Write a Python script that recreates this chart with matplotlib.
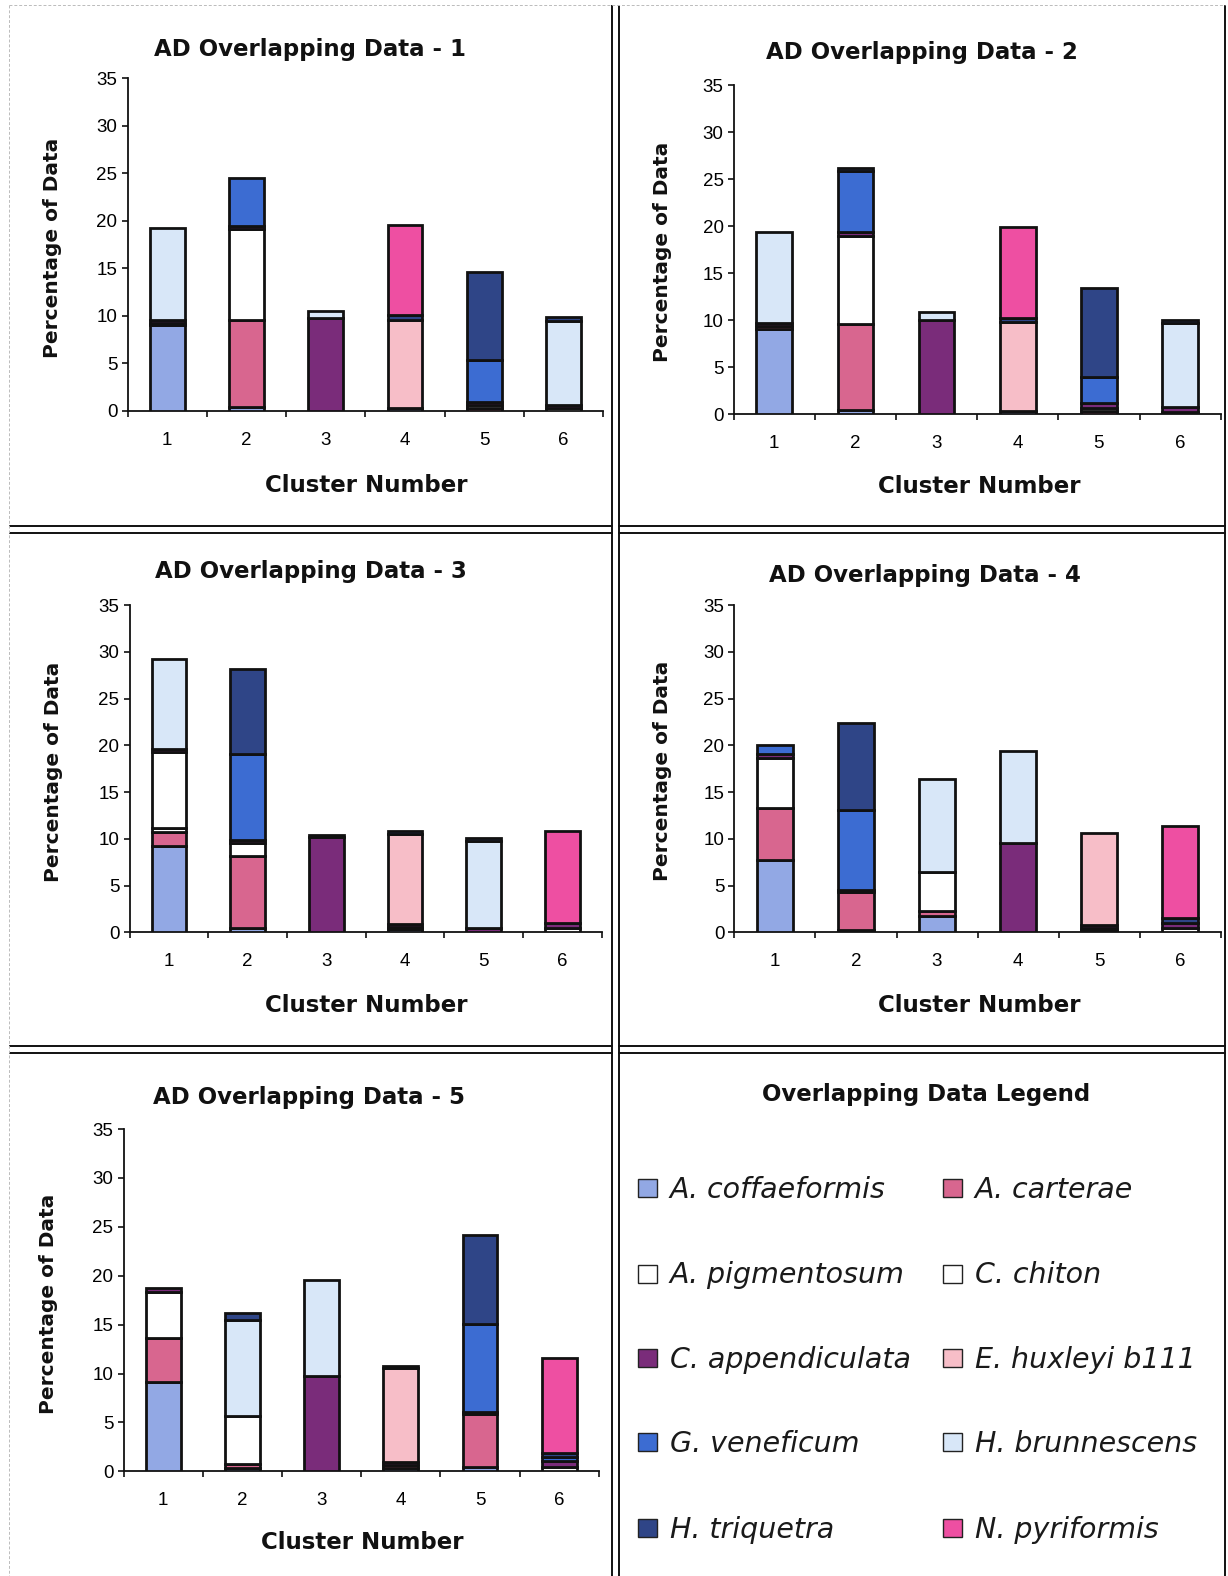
import numpy as np
import matplotlib
matplotlib.use('Agg')
import matplotlib.pyplot as plt
from matplotlib.lines import Line2D
from matplotlib.patches import Rectangle

plt.rcParams['font.family'] = ['Liberation Sans', 'DejaVu Sans']

species = ['A. coffaeformis', 'A. carterae', 'A. pigmentosum', 'C. chiton',
           'C. appendiculata', 'E. huxleyi b111', 'G. veneficum',
           'H. brunnescens', 'H. triquetra', 'N. pyriformis']
colors = ['#92A8E4', '#D8668F', '#FFFFFF', '#FFFFFF', '#7A2C7A',
          '#F7BEC8', '#3C6CD2', '#D8E7F8', '#2F4587', '#EE4FA2']
clusters = [1, 2, 3, 4, 5, 6]
y_ticks = [0, 5, 10, 15, 20, 25, 30, 35]

# percentage of data per cluster, one row per species (same order as `species`)
ad1 = [
    [9.0, 0.35, 0, 0.25, 0, 0],
    [0.25, 9.15, 0, 0, 0.3, 0],
    [0, 9.6, 0, 0, 0, 0.25],
    [0, 0, 0, 0, 0.3, 0],
    [0.25, 0.35, 9.8, 0, 0.35, 0.35],
    [0, 0, 0, 9.35, 0, 0],
    [0, 5.1, 0, 0, 4.38, 0],
    [9.76, 0, 0.7, 0, 0, 8.87],
    [0, 0, 0, 0.45, 9.3, 0.39],
    [0, 0, 0, 9.55, 0, 0],
]
ad2 = [
    [9.07, 0.46, 0, 0.35, 0, 0],
    [0.3, 9.1, 0, 0, 0.35, 0],
    [0, 9.43, 0, 0, 0, 0.28],
    [0, 0, 0, 0, 0.3, 0],
    [0.3, 0.35, 10.0, 0, 0.52, 0.53],
    [0, 0, 0, 9.5, 0, 0],
    [0, 6.52, 0, 0, 2.83, 0],
    [9.67, 0, 0.84, 0, 0, 8.86],
    [0, 0.3, 0, 0.42, 9.39, 0.35],
    [0, 0, 0, 9.6, 0, 0],
]
ad3 = [
    [9.27, 0.5, 0, 0.3, 0, 0],
    [1.43, 7.7, 0, 0.3, 0, 0],
    [0.4, 1.3, 0, 0, 0, 0.43],
    [8.2, 0, 0, 0, 0, 0],
    [0.3, 0.37, 10.2, 0.26, 0.43, 0.53],
    [0, 0, 0, 9.64, 0, 0],
    [0, 9.23, 0, 0, 0, 0],
    [9.6, 0, 0, 0, 9.37, 0],
    [0, 9.1, 0.2, 0.33, 0.25, 0],
    [0, 0, 0, 0, 0, 9.87],
]
ad4 = [
    [7.73, 0.2, 1.78, 0, 0.25, 0],
    [5.53, 4.08, 0.5, 0, 0.25, 0],
    [5.34, 0, 4.21, 0, 0, 0.43],
    [0, 0, 0, 0, 0, 0],
    [0.43, 0.22, 0, 9.5, 0.28, 0.6],
    [0, 0, 0, 0, 9.8, 0],
    [1.0, 8.58, 0, 0, 0, 0],
    [0, 0, 9.87, 9.89, 0, 0],
    [0, 9.26, 0, 0, 0, 0.54],
    [0, 0, 0, 0, 0, 9.83],
]
ad5 = [
    [9.17, 0.3, 0, 0.3, 0.4, 0],
    [4.49, 0.4, 0, 0.3, 5.43, 0],
    [4.7, 4.92, 0, 0, 0, 0.45],
    [0, 0, 0, 0, 0, 0],
    [0.41, 0, 9.74, 0.39, 0.27, 0.6],
    [0, 0, 0, 9.54, 0, 0],
    [0, 0, 0, 0, 8.93, 0.4],
    [0, 9.85, 9.82, 0, 0, 0],
    [0, 0.73, 0, 0.27, 9.17, 0.39],
    [0, 0, 0, 0, 0, 9.71],
]
panels = [ad1, ad2, ad3, ad4, ad5]
titles = ['AD Overlapping Data - %d' % (i + 1) for i in range(len(panels))]

W, H = 1228, 1576


def fx(px):
    return px / W


def fy(py):
    return 1 - py / H


# plot areas in pixels: left, right, top (y=35), bottom (y=0)
axes_px = [(127.5, 603.3, 78.3, 410.7), (733.7, 1220.7, 85.0, 414.3),
           (129.5, 601.7, 605.0, 932.3), (734.4, 1220.7, 605.0, 932.3),
           (123.5, 598.9, 1129.0, 1471.3)]
title_px = [(310, 56), (922, 59), (311, 578), (925, 582), (309, 1104)]
xlabel_px = [(366, 492), (979, 493), (366, 1012), (979, 1012), (362, 1549)]
ylabel_px = [(53, 248), (663, 252), (54, 772), (662, 771), (49, 1304)]

fig = plt.figure(figsize=(W / 100, H / 100), dpi=100)

# cell frames (double rules between cells, faint outer guide)
black = '#111111'
for x in (612, 619, 1225):
    fig.add_artist(Line2D([fx(x), fx(x)], [fy(6), fy(H)], color=black, lw=1.4))
for y in (525.5, 532.5, 1046, 1053):
    fig.add_artist(Line2D([fx(10), fx(612)], [fy(y), fy(y)], color=black, lw=1.4))
    fig.add_artist(Line2D([fx(619), fx(1225)], [fy(y), fy(y)], color=black, lw=1.4))
fig.add_artist(Line2D([fx(9), fx(9)], [fy(5), fy(H)], color='#bbbbbb', lw=0.7, ls=(0, (3, 2))))
fig.add_artist(Line2D([fx(9), fx(1225)], [fy(5), fy(5)], color='#bbbbbb', lw=0.7, ls=(0, (3, 2))))

x = np.array(clusters)
for k, data in enumerate(panels):
    l, r, t, b = axes_px[k]
    ax = fig.add_axes([fx(l), fy(b), fx(r) - fx(l), fy(t) - fy(b)])
    ax.set_facecolor('none')
    bottom = np.zeros(len(clusters))
    for i, vals in enumerate(data):
        vals = np.array(vals, dtype=float)
        m = vals > 0
        if m.any():
            ax.bar(x[m], vals[m], width=0.44, bottom=bottom[m], color=colors[i],
                   edgecolor=black, linewidth=2.0, zorder=3)
        bottom += vals
    ax.set_xlim(0.5, 6.5)
    ax.set_ylim(0, 35)
    for s in ('top', 'right'):
        ax.spines[s].set_visible(False)
    for s in ('left', 'bottom'):
        ax.spines[s].set_linewidth(1.3)
        ax.spines[s].set_color(black)
    ax.set_yticks(y_ticks)
    ax.set_yticklabels([str(v) for v in y_ticks])
    ax.tick_params(axis='y', length=4.3, width=1.2, pad=3, labelsize=13.5, color=black)
    ax.set_xticks(np.arange(0.5, 7.0, 1.0))
    ax.set_xticklabels([])
    ax.set_xticks(clusters, minor=True)
    ax.set_xticklabels([str(c) for c in clusters], minor=True)
    ax.tick_params(axis='x', which='major', length=4.3, width=1.2, color=black)
    ax.tick_params(axis='x', which='minor', length=0, pad=15, labelsize=13.5)

    tx, ty = title_px[k]
    fig.text(fx(tx), fy(ty), titles[k], ha='center', va='baseline',
             family='DejaVu Sans', fontweight='bold', fontsize=16.5, color=black)
    lx, ly = xlabel_px[k]
    fig.text(fx(lx), fy(ly), 'Cluster Number', ha='center', va='baseline',
             family='DejaVu Sans', fontweight='bold', fontsize=16.5, color=black)
    yx, yy = ylabel_px[k]
    fig.text(fx(yx), fy(yy), 'Percentage of Data', ha='center', va='center',
             rotation=90, family='DejaVu Sans', fontweight='bold', fontsize=14.5,
             color=black)

# legend cell
fig.text(fx(926), fy(1101), 'Overlapping Data Legend', ha='center', va='baseline',
         family='DejaVu Sans', fontweight='bold', fontsize=16.5, color=black)
sq_x = [638.5, 943.0]
txt_x = [670.0, 974.6]
row_cy = [1188.4, 1273.5, 1358.0, 1442.4, 1528.2]
for i, name in enumerate(species):
    row, col = divmod(i, 2)
    cy = row_cy[row]
    fig.add_artist(Rectangle((fx(sq_x[col]), fy(cy + 9)), 19 / W, 18 / H,
                             transform=fig.transFigure, facecolor=colors[i],
                             edgecolor='#222222', lw=1.0))
    fig.text(fx(txt_x[col]), fy(cy + 9.5), name, ha='left', va='baseline',
             family='DejaVu Sans', style='italic', fontsize=20.5, color='#1a1a1a')

fig.savefig('out.png', dpi=100, facecolor='white')
